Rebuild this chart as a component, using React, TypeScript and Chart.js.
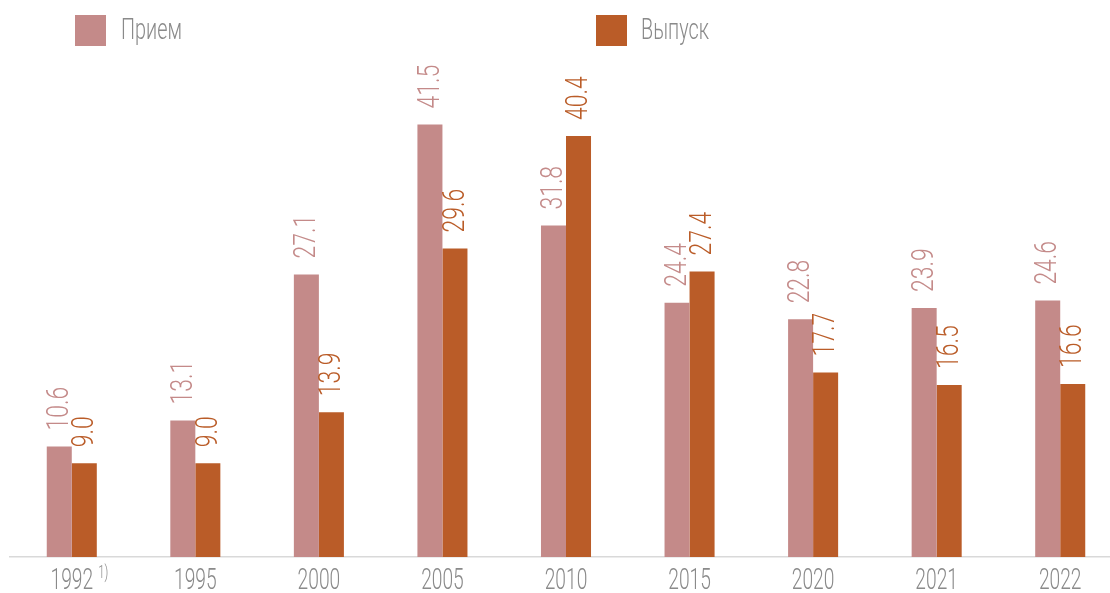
import React, { useEffect, useRef } from "react";
import { Chart, registerables } from "chart.js";

Chart.register(...registerables);

const categories = ["1992", "1995", "2000", "2005", "2010", "2015", "2020", "2021", "2022"];
const priem = [10.6, 13.1, 27.1, 41.5, 31.8, 24.4, 22.8, 23.9, 24.6];
const vypusk = [9.0, 9.0, 13.9, 29.6, 40.4, 27.4, 17.7, 16.5, 16.6];
const seriesNames = ["Прием", "Выпуск"];
const seriesColors = ["#C48A89", "#BA5C28"];
const footnoteCategory = "1992";
const footnoteText = "1)";

const FONT = "Roboto";

const labelPlugin = {
  id: "customDecor",
  afterDatasetsDraw(chart: any) {
    const ctx = chart.ctx;
    // data labels
    chart.data.datasets.forEach((ds: any, di: number) => {
      const meta = chart.getDatasetMeta(di);
      meta.data.forEach((el: any, i: number) => {
        const v = ds.data[i];
        ctx.save();
        ctx.translate(el.x + 1, el.y - 16);
        ctx.rotate(-Math.PI / 2);
        ctx.scale(0.74, 1);
        ctx.font = `300 31px ${FONT}`;
        ctx.fillStyle = ds.backgroundColor;
        ctx.textAlign = "left";
        ctx.textBaseline = "middle";
        ctx.fillText(v.toFixed(1), 0, 0);
        ctx.restore();
      });
    });
    // legend
    const legendPos = [
      { box: 75, text: 121 },
      { box: 596, text: 641 },
    ];
    chart.data.datasets.forEach((ds: any, di: number) => {
      const p = legendPos[di];
      ctx.save();
      ctx.fillStyle = ds.backgroundColor;
      ctx.fillRect(p.box, 15, 31, 31);
      ctx.translate(p.text, 31);
      ctx.scale(0.66, 1);
      ctx.font = `300 30px ${FONT}`;
      ctx.fillStyle = "#8a8a8a";
      ctx.textAlign = "left";
      ctx.textBaseline = "middle";
      ctx.fillText(ds.label, 0, 0);
      ctx.restore();
    });
    // x tick labels
    const xs = chart.scales.x;
    chart.data.labels.forEach((lab: string, i: number) => {
      const x = xs.getPixelForValue(i);
      ctx.save();
      ctx.translate(x, 581);
      ctx.scale(0.64, 1);
      ctx.font = `300 30px ${FONT}`;
      ctx.fillStyle = "#8a8a8a";
      ctx.textAlign = "center";
      ctx.textBaseline = "middle";
      ctx.fillText(lab, 0, 0);
      if (lab === footnoteCategory) {
        const w = ctx.measureText(lab).width;
        ctx.font = `300 18px ${FONT}`;
        ctx.textAlign = "left";
        ctx.fillText(footnoteText, w / 2 + 8, -8);
      }
      ctx.restore();
    });
  },
};

export default function App() {
  const ref = useRef<HTMLCanvasElement | null>(null);
  useEffect(() => {
    if (!ref.current) return;
    const chart = new Chart(ref.current, {
      type: "bar",
      data: {
        labels: categories,
        datasets: [
          { label: seriesNames[0], data: priem, backgroundColor: seriesColors[0], borderWidth: 0 },
          { label: seriesNames[1], data: vypusk, backgroundColor: seriesColors[1], borderWidth: 0 },
        ],
      },
      options: {
        animation: false,
        responsive: false,
        maintainAspectRatio: false,
        layout: { padding: { top: 88, left: 10, right: 0, bottom: 0 } },
        datasets: { bar: { categoryPercentage: 0.405, barPercentage: 1 } },
        plugins: { legend: { display: false }, tooltip: { enabled: false } },
        scales: {
          x: {
            grid: { display: false, drawTicks: false },
            border: { display: true, color: "#d9d9d9", width: 1.5 },
            ticks: { display: false },
            afterFit(scale: any) {
              scale.height = 36;
            },
          },
          y: { display: false, min: 0, max: 45 },
        },
      },
      plugins: [labelPlugin],
    });
    return () => chart.destroy();
  }, []);
  return (
    <div style={{ position: "absolute", left: 0, top: 0, width: 1110, height: 593, overflow: "hidden", background: "#fff" }}>
      <canvas ref={ref} width={1122} height={593} style={{ display: "block", width: 1122, height: 593 }} />
    </div>
  );
}
